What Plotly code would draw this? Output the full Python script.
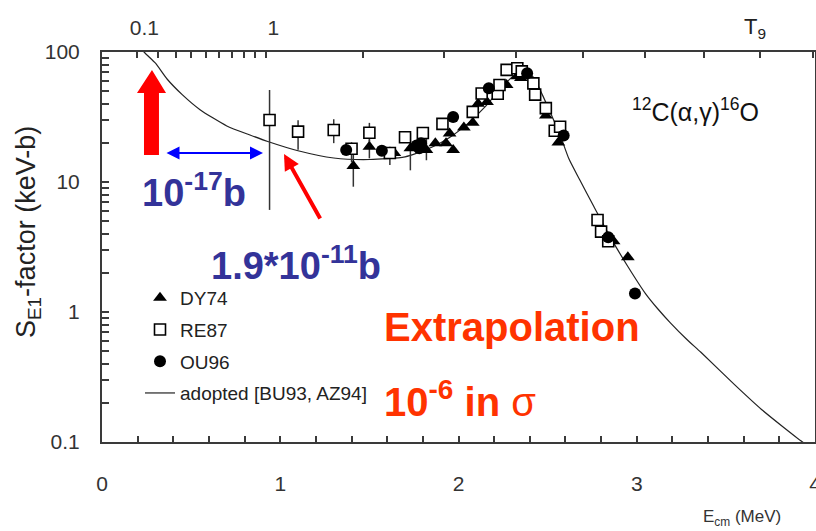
import plotly.graph_objects as go

# ---------------- data ----------------
dy74_E = [1.41, 1.50, 1.64, 1.73, 1.78, 1.82, 1.87, 1.93, 1.95, 1.97, 2.03, 2.08, 2.11, 2.16, 2.27, 2.33, 2.35, 2.49, 2.56, 2.87, 2.95]
dy74_S = [13.3, 18.7, 16.7, 18.2, 18.7, 17.6, 19.9, 19.9, 23.6, 17.6, 26.2, 28.6, 40.0, 41.2, 55.7, 65.0, 63.0, 32.5, 20.1, 3.5, 2.64]
dy74_up = [3.8, 2.5, 0, 5.5, 0, 4.2, 0, 0, 0, 0, 0, 0, 0, 0, 0, 0, 0, 0, 0, 0, 0]
dy74_dn = [4.1, 3.5, 0, 5.9, 0, 2.9, 0, 0, 0, 0, 0, 0, 0, 0, 0, 0, 0, 0, 0, 0, 0]

re87_E = [0.94, 1.10, 1.30, 1.40, 1.50, 1.615, 1.70, 1.80, 1.91, 2.08, 2.13, 2.22, 2.23, 2.27, 2.33, 2.355, 2.42, 2.43, 2.49, 2.54, 2.57, 2.78, 2.80, 2.84]
re87_S = [30.0, 24.4, 25.1, 18.0, 23.9, 16.7, 22.1, 23.8, 28.0, 34.6, 48.0, 47.7, 55.7, 72.8, 75.0, 71.0, 57.4, 47.0, 37.0, 24.8, 26.6, 5.1, 4.15, 3.5]
re87_up = [21.0, 5.5, 5.3, 2.2, 4.6, 2.0, 1.5, 0, 0, 0, 0, 0, 0, 0, 0, 0, 0, 0, 0, 0, 0, 0, 0, 0]
re87_dn = [23.9, 6.7, 5.2, 3.8, 3.5, 3.2, 1.5, 0, 0, 0, 0, 0, 0, 0, 0, 0, 0, 0, 0, 0, 0, 0, 0, 0]

ou96_E = [1.37, 1.57, 1.765, 1.78, 1.79, 1.97, 2.17, 2.385, 2.59, 2.84, 2.99]
ou96_S = [17.6, 17.4, 19.1, 18.2, 19.9, 31.6, 52.6, 68.5, 22.8, 3.76, 1.39]

fit_E = [0.20, 0.236, 0.30, 0.365, 0.45, 0.55, 0.70, 0.83, 0.93, 1.10, 1.30, 1.50, 1.70, 1.85, 1.95, 2.05, 2.15, 2.25,
         2.32, 2.37, 2.42, 2.47, 2.52, 2.57, 2.62, 2.68, 2.76, 2.85, 2.95, 3.05, 3.12, 3.19, 3.28, 3.36, 3.55, 3.70, 3.93, 4.0]
fit_S = [118, 100, 82, 62, 47, 36, 27, 23, 20.5, 17.4, 15.3, 14.9, 15.6, 18.5, 22, 28, 38, 55,
         67, 71, 64, 47, 33, 23, 15, 10.4, 6.46, 3.8, 2.24, 1.38, 1.05, 0.822, 0.617, 0.49, 0.275, 0.178, 0.1, 0.087]

x_ticks = [0, 1, 2, 3, 4]
y_decades = [0.1, 1, 10, 100]
y_labels = ["0.1", "1", "10", "100"]
y_digits = [1, 2, 3, 4, 5, 6, 7, 8, 9]
T9_ticks = [0.1, 0.2, 0.3, 0.4, 0.5, 0.6, 0.7, 0.8, 0.9, 1, 2, 3, 4, 5, 6, 7, 8, 9]
T9_labels = ["0.1", "", "", "", "", "", "", "", "", "1", "", "", "", "", "", "", "", ""]
# Gamow-peak energy for 12C + alpha: E0 = 0.122 (Z1^2 Z2^2 mu)^(1/3) T9^(2/3) MeV
Z1, Z2, MU = 2, 6, 3.0
T9_pos = [0.122 * (Z1**2 * Z2**2 * MU) ** (1 / 3) * t ** (2 / 3) for t in T9_ticks]

# log-axis ticks: every digit in each decade, labels only on decades
y_tickvals, y_ticktext = [], []
for d, lab in zip(y_decades, y_labels):
    for k in (y_digits if d < 100 else [1]):
        y_tickvals.append(d * k)
        y_ticktext.append(lab if k == 1 else "")

# ---------------- layout geometry ----------------
W, H = 816, 531
L, R, T, B = 102, 1, 52, 89
PW, PH = W - L - R, H - T - B


def px(x):
    return (x - L) / PW


def py(y):
    return (H - B - y) / PH


AX = "#3a3a3a"
NARROW = "Liberation Sans Narrow, Arial Narrow, Liberation Sans, Arial"
TICKFONT = dict(family=NARROW, size=21, color="#333333")

fig = go.Figure()

fig.add_trace(go.Scatter(x=fit_E, y=fit_S, mode="lines", name="adopted [BU93, AZ94]", legendgroup="g4",
                         line=dict(color="#222222", width=1.2, shape="spline", smoothing=0.6), legendrank=4))
fig.add_trace(go.Scatter(x=dy74_E, y=dy74_S, mode="markers", name="DY74", legendrank=1, legendgroup="g1",
                         marker=dict(symbol="triangle-up", size=12, color="black"),
                         error_y=dict(type="data", array=dy74_up, arrayminus=dy74_dn, symmetric=False,
                                      width=0, thickness=1.5, color="#333333")))
fig.add_trace(go.Scatter(x=re87_E, y=re87_S, mode="markers", name="RE87", legendrank=2, legendgroup="g2",
                         marker=dict(symbol="square", size=11, color="white", line=dict(color="black", width=1.6)),
                         error_y=dict(type="data", array=re87_up, arrayminus=re87_dn, symmetric=False,
                                      width=0, thickness=1.5, color="#333333")))
fig.add_trace(go.Scatter(x=ou96_E, y=ou96_S, mode="markers", name="OU96", legendrank=3, legendgroup="g3",
                         marker=dict(symbol="circle", size=12, color="black")))

# top T9 axis carrier
fig.add_trace(go.Scatter(x=[0, 4], y=[1, 1], xaxis="x2", mode="markers", marker=dict(opacity=0),
                         showlegend=False, hoverinfo="skip"))

fig.update_layout(
    width=W, height=H, margin=dict(l=L, r=R, t=T, b=B, autoexpand=False),
    paper_bgcolor="white", plot_bgcolor="white",
    font=dict(family="Liberation Sans, Arial", color="#222222"),
    xaxis=dict(range=[0, 4], tickvals=x_ticks, ticktext=[str(v) for v in x_ticks],
               ticks="inside", ticklen=6, tickwidth=1.5, tickcolor=AX,
               minor=dict(dtick=0.2, ticks="inside", ticklen=6, tickwidth=1.5, tickcolor=AX),
               showline=True, linecolor=AX, linewidth=2, mirror=True, showgrid=False, zeroline=False,
               tickfont=TICKFONT, ticklabelstandoff=22, ticklabeloverflow="allow", automargin=False),
    xaxis2=dict(range=[0, 4], overlaying="x", side="top", tickvals=T9_pos, ticktext=T9_labels,
                ticks="inside", ticklen=6, tickwidth=1.5, tickcolor=AX, showline=False,
                showgrid=False, zeroline=False, tickfont=TICKFONT, ticklabelstandoff=12,
                ticklabelshift=7, automargin=False),
    yaxis=dict(type="log", range=[-1, 2], tickvals=y_tickvals, ticktext=y_ticktext,
               ticks="inside", ticklen=7, tickwidth=1.5, tickcolor=AX,
               showline=True, linecolor=AX, linewidth=2, mirror=True, showgrid=False, zeroline=False,
               tickfont=TICKFONT, ticklabelstandoff=16, automargin=False),
    legend=dict(x=px(140), y=py(279), xanchor="left", yanchor="top", bgcolor="rgba(0,0,0,0)",
                font=dict(family=NARROW, size=19, color="#222222"),
                tracegroupgap=4, itemwidth=30, traceorder="grouped"),
    showlegend=True,
)

# big red arrow (shape, paper coords)
pts = [(144, 155), (159, 155), (159, 93), (166, 93), (152, 70), (137, 93), (144, 93)]
path = "M " + " L ".join("%.4f,%.4f" % (px(a), py(b)) for a, b in pts) + " Z"
fig.add_shape(type="path", path=path, xref="paper", yref="paper", fillcolor="#ff0000",
              line=dict(color="#ff0000", width=0))

# blue double arrow
fig.add_annotation(x=px(263), y=py(153), xref="paper", yref="paper", ax=-98, ay=0, axref="pixel", ayref="pixel",
                   text="", showarrow=True, arrowside="end+start", arrowhead=2, arrowsize=1.3,
                   arrowwidth=2, arrowcolor="#0000ff")
# red thin arrow
fig.add_annotation(x=px(284), y=py(154), xref="paper", yref="paper", ax=37, ay=66, axref="pixel", ayref="pixel",
                   text="", showarrow=True, arrowhead=2, arrowsize=0.8, arrowwidth=4, arrowcolor="#ff0000")

BIG = "Liberation Sans, Arial"
fig.add_annotation(x=px(140), y=py(190), xref="paper", yref="paper", xanchor="left", yanchor="middle",
                   text="<b>10<sup>-17</sup>b</b>", showarrow=False,
                   font=dict(family=BIG, size=38, color="#333399"))
fig.add_annotation(x=px(209), y=py(263), xref="paper", yref="paper", xanchor="left", yanchor="middle",
                   text="<b>1.9*10<sup>-11</sup>b</b>", showarrow=False,
                   font=dict(family=BIG, size=38, color="#333399"))
fig.add_annotation(x=px(382), y=py(327), xref="paper", yref="paper", xanchor="left", yanchor="middle",
                   text="<b>Extrapolation</b>", showarrow=False,
                   font=dict(family=BIG, size=40, color="#ff3300"))
fig.add_annotation(x=px(382), y=py(399), xref="paper", yref="paper", xanchor="left", yanchor="middle",
                   text="<b>10<sup>-6</sup> in </b>σ", showarrow=False,
                   font=dict(family=BIG, size=40, color="#ff3300"))
fig.add_annotation(x=px(630), y=py(110), xref="paper", yref="paper", xanchor="left", yanchor="middle",
                   text="<sup>12</sup>C(α,γ)<sup>16</sup>O", showarrow=False,
                   font=dict(family=NARROW, size=25, color="#111111"))
fig.add_annotation(x=px(742), y=py(28), xref="paper", yref="paper", xanchor="left", yanchor="middle",
                   text="T<sub>9</sub>", showarrow=False,
                   font=dict(family=NARROW, size=22, color="#222222"))
fig.add_annotation(x=px(742), y=py(518), xref="paper", yref="paper", xanchor="center", yanchor="middle",
                   text="E<sub>cm</sub> (MeV)", showarrow=False,
                   font=dict(family=NARROW, size=17, color="#333333"))
fig.add_annotation(x=px(28), y=py(232), xref="paper", yref="paper", xanchor="center", yanchor="middle",
                   text="S<sub>E1</sub>-factor (keV-b)", showarrow=False, textangle=-90,
                   font=dict(family="Liberation Sans, Arial", size=27, color="#222222"))

fig.write_html("out.html")
